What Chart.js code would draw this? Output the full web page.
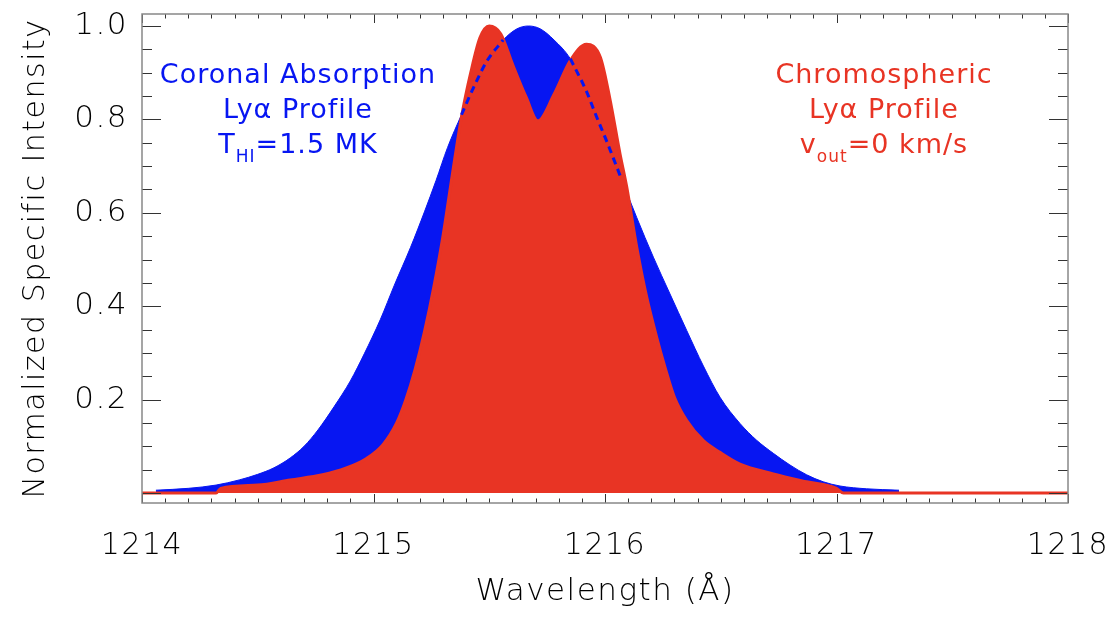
<!DOCTYPE html>
<html>
<head>
<meta charset="utf-8">
<script src="https://cdn.jsdelivr.net/npm/chart.js@4.4.0/dist/chart.umd.min.js"></script>
<style>
  body { margin: 0; background: #fff; }
  #wrap { width: 1117px; height: 619px; }
</style>
</head>
<body>
<div id="wrap"><canvas id="lyaChart" width="1117" height="619"></canvas></div>
<script>
// Coronal absorption profile (blue): wavelength in Angstrom, normalized intensity
const blueWave = [1214.06, 1214.20, 1214.32, 1214.42, 1214.50, 1214.57, 1214.64, 1214.70, 1214.76, 1214.83,
                  1214.90, 1214.96, 1215.03, 1215.09, 1215.16, 1215.22, 1215.27, 1215.32, 1215.38, 1215.43,
                  1215.49, 1215.56, 1215.62, 1215.67, 1215.72, 1215.78, 1215.85, 1215.92, 1215.96, 1216.01,
                  1216.065, 1216.137, 1216.209, 1216.281, 1216.353, 1216.425, 1216.497, 1216.583, 1216.655, 1216.727,
                  1216.799, 1216.871, 1216.943, 1217.015, 1217.13, 1217.27];
const blueInt = [0.006, 0.010, 0.017, 0.028, 0.040, 0.054, 0.075, 0.100, 0.135, 0.185,
                 0.240, 0.298, 0.372, 0.445, 0.526, 0.602, 0.669, 0.740, 0.810, 0.866,
                 0.925, 0.970, 0.994, 1.000, 0.994, 0.970, 0.930, 0.860, 0.810, 0.750,
                 0.680, 0.590, 0.505, 0.426, 0.348, 0.272, 0.205, 0.149, 0.113, 0.085,
                 0.060, 0.039, 0.024, 0.015, 0.009, 0.006];

// Chromospheric profile (red)
const redWave = [1214.00, 1214.32, 1214.34, 1214.50, 1214.64, 1214.78, 1214.88, 1214.97, 1215.04, 1215.10,
                 1215.14, 1215.18, 1215.22, 1215.26, 1215.30, 1215.34, 1215.38, 1215.42, 1215.46,
                 1215.50, 1215.55, 1215.60, 1215.66, 1215.71, 1215.78, 1215.85, 1215.92, 1215.98, 1216.02,
                 1216.065, 1216.094, 1216.137, 1216.18, 1216.223, 1216.26, 1216.30, 1216.353, 1216.425, 1216.497,
                 1216.583, 1216.727, 1216.871, 1217.00, 1217.03, 1218.00];
const redInt = [0.000, 0.000, 0.010, 0.017, 0.028, 0.039, 0.053, 0.074, 0.103, 0.150,
                0.200, 0.265, 0.345, 0.440, 0.550, 0.680, 0.805, 0.900, 0.975,
                1.000, 0.983, 0.919, 0.847, 0.797, 0.854, 0.926, 0.961, 0.933, 0.847,
                0.726, 0.655, 0.527, 0.420, 0.334, 0.268, 0.205, 0.155, 0.112, 0.087,
                0.062, 0.041, 0.024, 0.010, 0.000, 0.000];

// stretches of the blue profile hidden under the red one (shown dashed)
const dashRanges = [[1215.38, 1215.56], [1215.85, 1216.07]];

const xTickValues = [1214, 1215, 1216, 1217, 1218];
const yTickValues = [0.2, 0.4, 0.6, 0.8, 1.0];

const BLUE = '#0716f2';
const RED = '#e83424';
const FONT = "'DejaVu Sans', sans-serif";

function toPoints(xs, ys) {
    return xs.map((x, i) => ({ x: x, y: ys[i] }));
}

const dashPoints = blueWave.map((x, i) => {
    const inside = dashRanges.some(r => x >= r[0] && x <= r[1]);
    return { x: x, y: inside ? blueInt[i] : null };
});

// IDL style box with inward ticks on all four sides, plus the wide-set axis lettering
const frameTicks = {
    id: 'frameTicks',
    beforeDraw(chart) {
        chart.ctx.letterSpacing = '1.5px';
    },
    afterDatasetsDraw(chart) {
        const { ctx, chartArea: a, scales: { x, y } } = chart;
        ctx.save();
        ctx.strokeStyle = '#333';
        ctx.lineWidth = 1;
        ctx.beginPath();
        for (let i = 0; i <= 40; i++) {
            const px = Math.round(x.getPixelForValue(1214 + i * 0.1)) + 0.5;
            const len = i % 10 === 0 ? 9 : 4.5;
            ctx.moveTo(px, a.bottom); ctx.lineTo(px, a.bottom - len);
            ctx.moveTo(px, a.top); ctx.lineTo(px, a.top + len);
        }
        for (let i = 0; i <= 20; i++) {
            const py = Math.round(y.getPixelForValue(i * 0.05)) + 0.5;
            const len = i % 4 === 0 ? 19 : 10;
            ctx.moveTo(a.left, py); ctx.lineTo(a.left + len, py);
            ctx.moveTo(a.right, py); ctx.lineTo(a.right - len, py);
        }
        ctx.stroke();
        ctx.strokeStyle = '#888';
        ctx.lineWidth = 1.5;
        ctx.strokeRect(a.left, a.top, a.right - a.left, a.bottom - a.top);
        ctx.restore();
    },
    afterDraw(chart) {
        chart.ctx.letterSpacing = '0px';
    }
};

const blueNote = [
    [['Coronal Absorption', false]],
    [['Ly\u03b1 Profile', false]],
    [['T', false], ['HI', true], ['=1.5 MK', false]]
];
const redNote = [
    [['Chromospheric', false]],
    [['Ly\u03b1 Profile', false]],
    [['v', false], ['out', true], ['=0 km/s', false]]
];

function drawNoteLine(ctx, cx, baseY, parts, color) {
    const big = '27px ' + FONT, small = '17px ' + FONT;
    ctx.letterSpacing = '1px';
    let total = 0;
    parts.forEach(p => { ctx.font = p[1] ? small : big; total += ctx.measureText(p[0]).width; });
    let xPos = cx - total / 2;
    ctx.fillStyle = color;
    ctx.textAlign = 'left';
    ctx.textBaseline = 'alphabetic';
    parts.forEach(p => {
        ctx.font = p[1] ? small : big;
        ctx.fillText(p[0], xPos, p[1] ? baseY + 9 : baseY);
        xPos += ctx.measureText(p[0]).width;
    });
}

const notes = {
    id: 'notes',
    afterDraw(chart) {
        const ctx = chart.ctx;
        ctx.save();
        blueNote.forEach((line, i) => drawNoteLine(ctx, 298, 83 + i * 35, line, BLUE));
        redNote.forEach((line, i) => drawNoteLine(ctx, 884, 83 + i * 35, line, RED));
        ctx.restore();
    }
};

new Chart(document.getElementById('lyaChart'), {
    type: 'line',
    data: {
        datasets: [{
            label: 'Coronal (hidden part)',
            data: dashPoints,
            borderColor: BLUE,
            borderWidth: 3,
            borderDash: [7, 5],
            fill: false,
            pointRadius: 0,
            spanGaps: false,
            cubicInterpolationMode: 'monotone',
            order: 0
        }, {
            label: 'Chromospheric',
            data: toPoints(redWave, redInt),
            borderColor: RED,
            backgroundColor: RED,
            borderWidth: 3,
            fill: 'origin',
            pointRadius: 0,
            cubicInterpolationMode: 'monotone',
            order: 1
        }, {
            label: 'Coronal',
            data: toPoints(blueWave, blueInt),
            borderColor: BLUE,
            backgroundColor: BLUE,
            borderWidth: 1,
            fill: 'origin',
            pointRadius: 0,
            cubicInterpolationMode: 'monotone',
            order: 2
        }]
    },
    options: {
        responsive: false,
        animation: false,
        layout: { padding: { top: 14, right: 49, bottom: 0, left: 0 } },
        plugins: {
            legend: { display: false },
            tooltip: { enabled: false }
        },
        scales: {
            x: {
                type: 'linear',
                min: 1214,
                max: 1218,
                afterBuildTicks: s => { s.ticks = xTickValues.map(v => ({ value: v })); },
                afterFit: s => { s.height = 116; s.paddingLeft = 0; s.paddingRight = 0; },
                grid: { display: false, drawTicks: false },
                border: { display: false },
                ticks: {
                    font: { family: FONT, size: 30, weight: 200 },
                    color: '#000',
                    padding: 25,
                    maxRotation: 0,
                    callback: v => String(v)
                },
                title: {
                    display: true,
                    text: 'Wavelength (\u00c5)',
                    font: { family: FONT, size: 31, weight: 200 },
                    color: '#000',
                    padding: { top: 0, bottom: 8 }
                }
            },
            y: {
                type: 'linear',
                min: -0.0214,
                max: 1.0257,
                afterBuildTicks: s => { s.ticks = yTickValues.map(v => ({ value: v })); },
                afterFit: s => { s.width = 142; s.paddingTop = 0; s.paddingBottom = 0; },
                grid: { display: false, drawTicks: false },
                border: { display: false },
                ticks: {
                    font: { family: FONT, size: 31, weight: 200 },
                    color: '#000',
                    padding: 14,
                    callback: v => v.toFixed(1)
                },
                title: {
                    display: true,
                    text: 'Normalized Specific Intensity',
                    font: { family: FONT, size: 30, weight: 200 },
                    color: '#000',
                    padding: { top: 18, bottom: 0 }
                }
            }
        }
    },
    plugins: [frameTicks, notes]
});
</script>
</body>
</html>
